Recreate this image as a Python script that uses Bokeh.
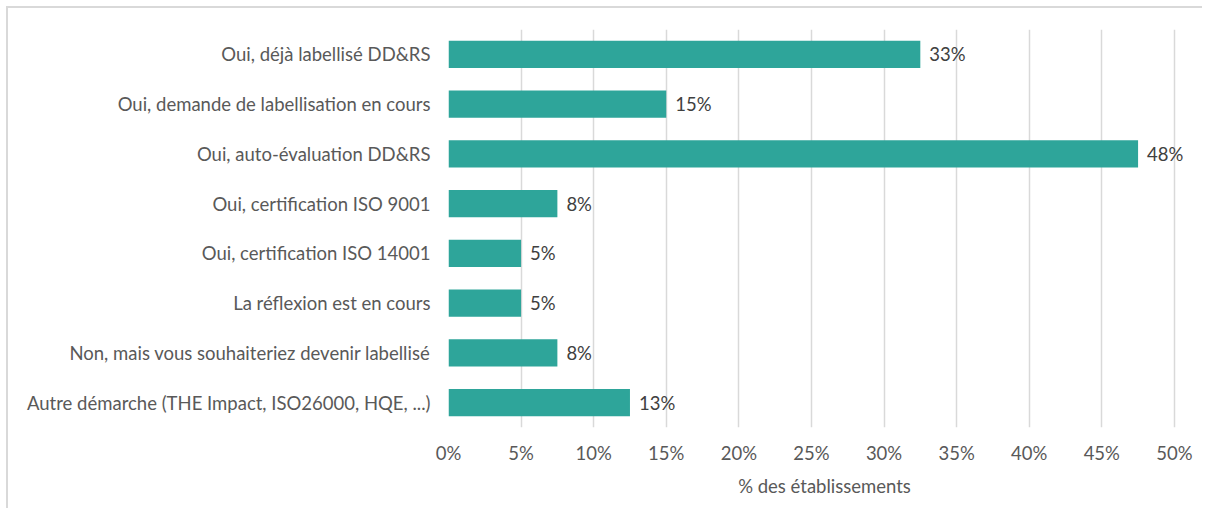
from bokeh.plotting import figure
from bokeh.models import FactorRange, Range1d, FixedTicker, ColumnDataSource
from bokeh.core.properties import value
from bokeh.embed import file_html
from bokeh.resources import INLINE

categories = [
    "Oui, déjà labellisé DD&RS",
    "Oui, demande de labellisation en cours",
    "Oui, auto-évaluation DD&RS",
    "Oui, certification ISO 9001",
    "Oui, certification ISO 14001",
    "La réflexion est en cours",
    "Non, mais vous souhaiteriez devenir labellisé",
    "Autre démarche (THE Impact, ISO26000, HQE, ...)",
]
values = [32.5, 15.0, 47.5, 7.5, 5.0, 5.0, 7.5, 12.5]
tick_values = [0, 5, 10, 15, 20, 25, 30, 35, 40, 45, 50]
tick_labels = [f"{t}%" for t in tick_values]
axis_title = "% des établissements"

FONT = "Lato"
FS = "18.5px"
TXT = "#595959"
BAR = "#2ea59a"

labels = [f"{int(v + 0.5)}%" for v in values]
src = ColumnDataSource(dict(cat=categories, val=values, lab=labels))

p = figure(
    width=1196, height=502,
    y_range=FactorRange(*reversed(categories), range_padding=0),
    x_range=Range1d(0, 51.8),
    output_backend="svg", toolbar_location=None,
    min_border_left=440, min_border_right=4,
    min_border_top=21, min_border_bottom=83,
)
p.styles = {"margin-left": "6px", "margin-top": "6px",
            "border-top": "2px solid #d9d9d9", "border-left": "2px solid #d9d9d9"}
p.outline_line_color = None

p.hbar(y="cat", right="val", left=0, height=0.55, source=src,
       fill_color=BAR, line_color=None)
p.text(x="val", y="cat", text="lab", source=src, x_offset=9,
       text_align="left", text_baseline="middle",
       text_font=value(FONT), text_font_size=FS, text_color="#404040")

p.xaxis.ticker = FixedTicker(ticks=tick_values)
p.xaxis.major_label_overrides = {t: l for t, l in zip(tick_values, tick_labels)}
p.xaxis.axis_label = axis_title
for ax in (p.xaxis, p.yaxis):
    ax.axis_line_color = None
    ax.major_tick_line_color = None
    ax.minor_tick_line_color = None
    ax.major_label_text_font = FONT
    ax.major_label_text_font_size = FS
    ax.major_label_text_color = TXT
p.xaxis.major_label_standoff = 8
p.yaxis.major_label_standoff = 12
p.xaxis.axis_label_text_font = FONT
p.xaxis.axis_label_text_font_size = FS
p.xaxis.axis_label_text_font_style = "normal"
p.xaxis.axis_label_text_color = TXT
p.xaxis.axis_label_standoff = 8

p.ygrid.grid_line_color = None
p.xgrid.grid_line_color = "#d9d9d9"
p.xgrid.grid_line_width = 1.5

open("out.html", "w").write(file_html(p, INLINE))
